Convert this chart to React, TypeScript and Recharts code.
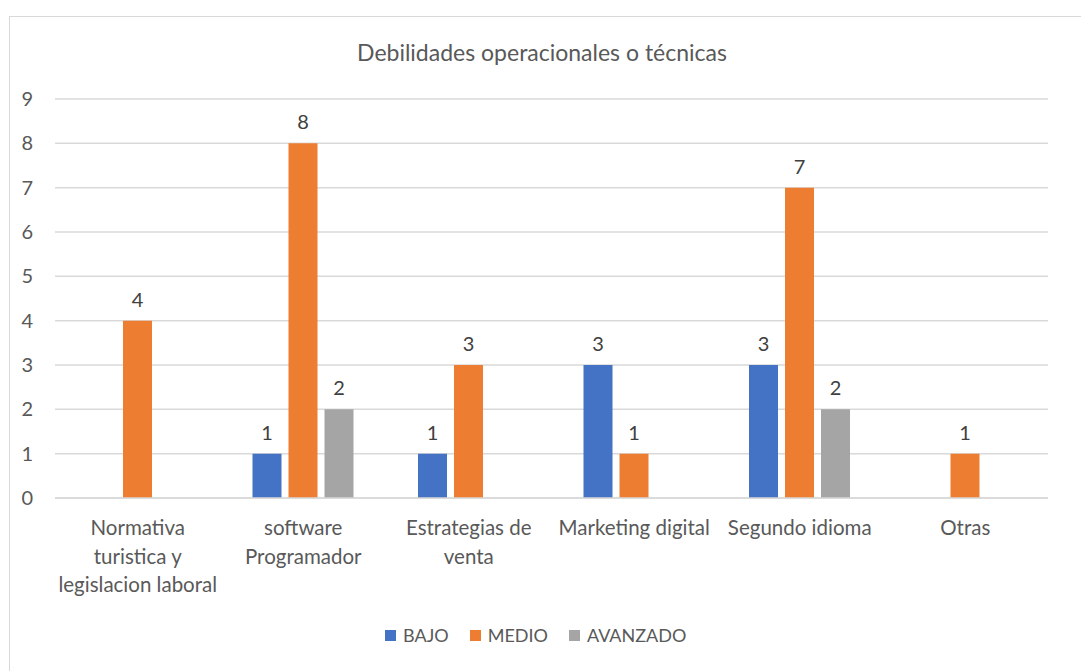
import React from "react"
import { BarChart, Bar, XAxis, YAxis, CartesianGrid, LabelList } from "recharts"

const categories = [
  "Normativa\nturistica y\nlegislacion laboral",
  "software\nProgramador",
  "Estrategias de\nventa",
  "Marketing digital",
  "Segundo idioma",
  "Otras",
]
const bajo = [null, 1, 1, 3, 3, null]
const medio = [4, 8, 3, 1, 7, 1]
const avanzado = [null, 2, null, null, 2, null]
const yTicks = [0, 1, 2, 3, 4, 5, 6, 7, 8, 9]

const series = [
  { key: "BAJO", color: "#4472C4" },
  { key: "MEDIO", color: "#ED7D31" },
  { key: "AVANZADO", color: "#A5A5A5" },
]

const data = categories.map((name, i) => ({
  name,
  BAJO: bajo[i],
  MEDIO: medio[i],
  AVANZADO: avanzado[i],
}))

const FONT = "Lato, 'Open Sans', sans-serif"
const TEXT = "#595959"

const CategoryTick = ({ x, y, payload }: any) => {
  const lines = String(payload.value).split("\n")
  return (
    <text x={x} y={y} textAnchor="middle" fill={TEXT} fontSize={20.5} fontFamily={FONT}>
      {lines.map((l, i) => (
        <tspan key={i} x={x} dy={i === 0 ? 37 : 28.5}>
          {l}
        </tspan>
      ))}
    </text>
  )
}

export default function App() {
  return (
    <div style={{ position: "absolute", left: 0, top: 0, width: 1081, height: 671, overflow: "hidden", background: "#fff", fontFamily: FONT }}>
      <div style={{ position: "absolute", left: 9, top: 16, width: 1200, height: 800, border: "1px solid #d9d9d9" }} />
      <div style={{ position: "absolute", left: 0, width: 1084, top: 38, textAlign: "center", fontSize: 23, color: TEXT }}>
        Debilidades operacionales o técnicas
      </div>
      <div style={{ position: "absolute", left: 0, top: 0 }}>
        <BarChart width={1081} height={671} data={data} margin={{ top: 99, right: 33, left: 0, bottom: 73 }} barGap={7} barSize={29}>
          <CartesianGrid vertical={false} stroke="#d9d9d9" strokeWidth={1.5} />
          <XAxis
            dataKey="name"
            axisLine={{ stroke: "#d9d9d9", strokeWidth: 1.5 }}
            tickLine={false}
            tickSize={0}
            tickMargin={0}
            interval={0}
            height={100}
            tick={<CategoryTick />}
          />
          <YAxis
            width={55}
            domain={[0, 9]}
            ticks={yTicks}
            axisLine={false}
            tickLine={false}
            tickSize={0}
            tickMargin={22}
            tick={{ fill: TEXT, fontSize: 20, fontFamily: FONT }}
          />
          {series.map((s) => (
            <Bar key={s.key} dataKey={s.key} fill={s.color} isAnimationActive={false}>
              <LabelList
                dataKey={s.key}
                position="top"
                offset={14}
                fill="#404040"
                fontSize={20}
                fontFamily={FONT}
                formatter={(v: any) => (v == null ? "" : v)}
              />
            </Bar>
          ))}
        </BarChart>
      </div>
      <div style={{ position: "absolute", top: 624, left: 385, display: "flex", alignItems: "center", fontSize: 18, color: TEXT }}>
        {series.map((s) => (
          <div key={s.key} style={{ display: "flex", alignItems: "center", marginRight: 21 }}>
            <span style={{ display: "inline-block", width: 11, height: 11, background: s.color, marginRight: 7 }} />
            <span>{s.key}</span>
          </div>
        ))}
      </div>
    </div>
  )
}
